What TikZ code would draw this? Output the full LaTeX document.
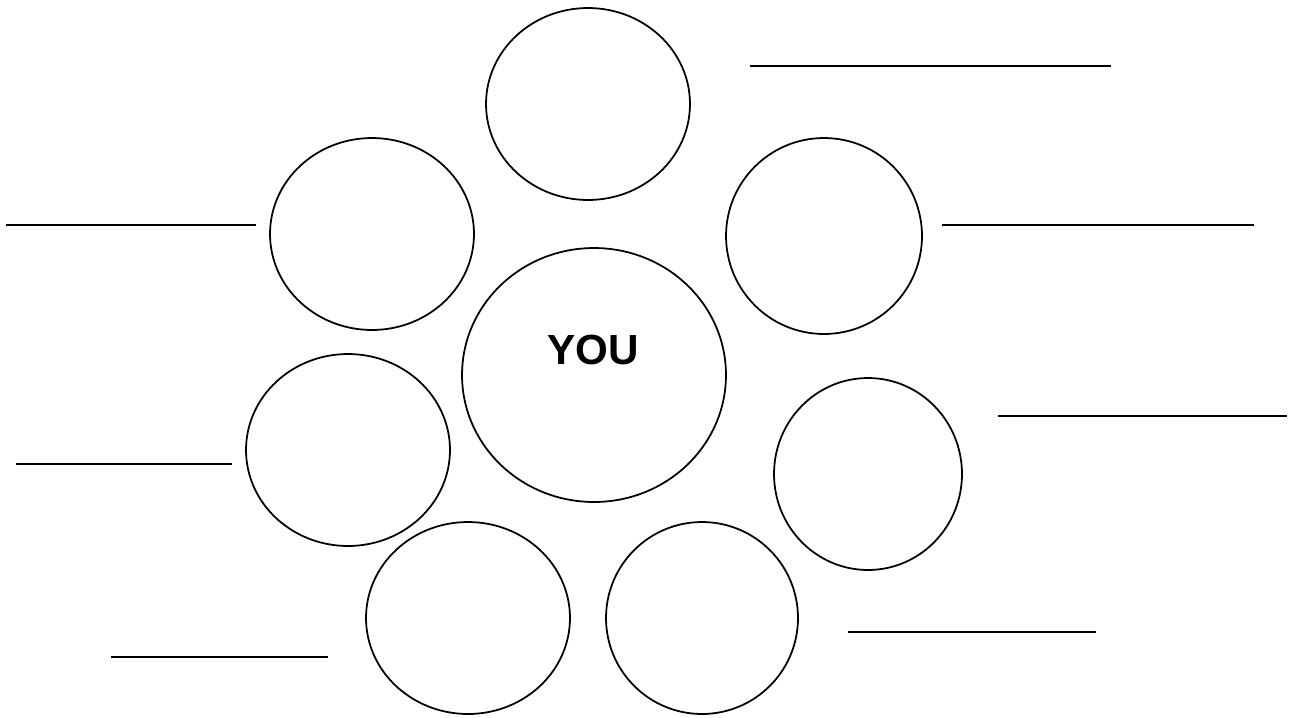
\documentclass[tikz,border=0pt]{standalone}
\usepackage{fontspec}
\setmainfont{Liberation Sans}
\usetikzlibrary{shapes.geometric}

\begin{document}
\begin{tikzpicture}[
    x=0.02cm, y=-0.02cm,
    bubble/.style={ellipse, draw, line width=1pt, inner sep=0pt},
    blank/.style={line width=1pt}
]
    \useasboundingbox (0,0) rectangle (1291,717);

    % circles around the centre
    \node [bubble, minimum width=4.08cm, minimum height=3.84cm] (top) at (588,104) {};
    \node [bubble, minimum width=4.08cm, minimum height=3.84cm] (upleft) at (372,234) {};
    \node [bubble, minimum width=3.92cm, minimum height=3.92cm] (upright) at (824,236) {};
    \node [bubble, minimum width=5.28cm, minimum height=5.08cm] (centre) at (594,375) {};
    \node [bubble, minimum width=4.08cm, minimum height=3.84cm] (midleft) at (348,450) {};
    \node [bubble, minimum width=3.76cm, minimum height=3.84cm] (midright) at (868,474) {};
    \node [bubble, minimum width=4.08cm, minimum height=3.84cm] (lowleft) at (468,618) {};
    \node [bubble, minimum width=3.84cm, minimum height=3.84cm] (lowright) at (702,618) {};

    \node [font=\fontsize{24}{28}\selectfont\bfseries] (you) at (593,350) {YOU};

    % lines to write on
    \draw [blank] (750,66) -- (1111,66);
    \draw [blank] (6,225) -- (256,225);
    \draw [blank] (942,225) -- (1254,225);
    \draw [blank] (998,416) -- (1287,416);
    \draw [blank] (16,464) -- (232,464);
    \draw [blank] (848,632) -- (1096,632);
    \draw [blank] (111,657) -- (328,657);
\end{tikzpicture}
\end{document}
